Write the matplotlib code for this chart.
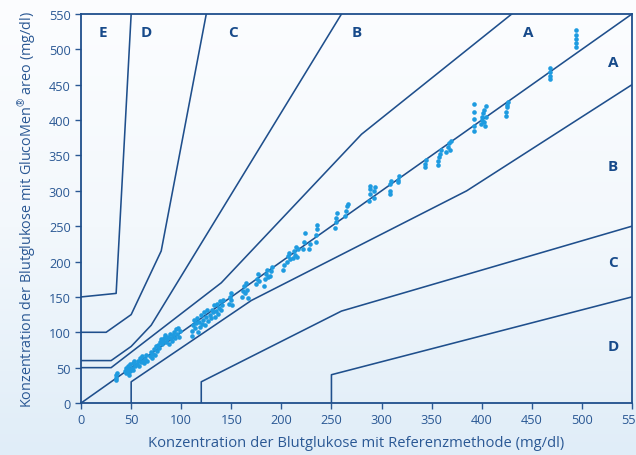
import matplotlib
matplotlib.use("Agg")
import matplotlib.pyplot as plt
import numpy as np
from matplotlib.colors import LinearSegmentedColormap

# ---------------- data ----------------
ref = [35, 35, 35, 36,
       44, 45, 45, 46, 47, 47, 48, 48, 49, 49,
       51, 52, 52, 53, 54,
       56, 57, 58, 59, 60, 61, 62, 63, 64, 65, 66,
       69, 70, 71, 72, 73, 74, 75, 76,
       77, 78, 79, 80, 81, 82, 83, 84, 85, 86, 87, 88, 89,
       90, 91, 92, 93, 94, 95, 96, 97, 98, 99,
       111, 111, 112, 113, 114, 115, 116, 117, 118, 119, 120, 121,
       122, 123, 124, 125, 126, 127,
       129, 130, 131, 132, 133, 134, 135, 136, 137, 138, 139, 140, 141, 142,
       148, 149, 150, 150, 151,
       161, 162, 163, 164, 165, 166, 167,
       175, 176, 177, 178,
       183, 184, 185, 186, 187,
       189, 190, 191,
       202, 203,
       206, 207, 208, 209,
       212, 213, 214, 215, 216, 217,
       222, 223, 224,
       228, 229,
       235, 235, 236, 236,
       254, 255, 255, 256,
       264, 265, 266, 267,
       288, 289, 289, 289, 292, 292, 293,
       308, 308, 308, 309,
       316, 316, 317,
       343, 343, 344,
       356, 356, 357, 358, 359,
       364, 366, 367, 368, 369,
       392, 392, 392, 392, 392,
       399, 400, 400, 401, 402, 402, 403, 404, 404,
       424, 424, 425, 425, 426,
       468, 468, 468, 468,
       494, 494, 494, 494, 494]
meas = [32, 36, 40, 42,
        45, 42, 50, 47, 44, 52, 40, 48, 55, 45,
        50, 56, 47, 59, 52,
        55, 60, 52, 64, 58, 66, 60, 56, 62, 68, 60,
        66, 72, 64, 70, 76, 68, 80, 74,
        82, 78, 86, 90, 84, 88, 92, 96, 86, 90, 94, 84, 98,
        92, 88, 96, 100, 92, 104, 98, 106, 94, 102,
        95, 102, 110, 118, 106, 113, 120, 100, 115, 108, 125, 112,
        118, 128, 110, 122, 132, 116,
        125, 120, 132, 128, 138, 122, 130, 140, 126, 135, 144, 132, 138, 146,
        140, 150, 156, 145, 138,
        150, 158, 165, 155, 170, 160, 148,
        168, 176, 182, 172,
        166, 175, 182, 188, 178,
        180, 186, 192,
        188, 195,
        200, 208, 212, 204,
        205, 215, 210, 220, 206, 218,
        218, 228, 240,
        218, 225,
        228, 238, 246, 252,
        248, 256, 262, 268,
        264, 272, 278, 282,
        286, 296, 302, 307, 290, 300, 305,
        295, 300, 310, 314,
        312, 316, 321,
        334, 338, 343,
        336, 342, 348, 352, 358,
        355, 362, 368, 358, 371,
        385, 392, 402, 411, 423,
        395, 400, 405, 410, 398, 415, 392, 420, 404,
        406, 412, 418, 422, 426,
        458, 463, 468, 474,
        503, 509, 515, 521, 527]

# Parkes error grid boundaries (type 1)
a_up_x = [0, 30, 140, 280, 430]
a_up_y = [50, 50, 170, 380, 550]
a_lo_x = [50, 50, 170, 385, 550]
a_lo_y = [0, 30, 145, 300, 450]
b_up_x = [0, 30, 50, 70, 260]
b_up_y = [60, 60, 80, 110, 550]
b_lo_x = [120, 120, 260, 550]
b_lo_y = [0, 30, 130, 250]
c_up_x = [0, 25, 50, 80, 125]
c_up_y = [100, 100, 125, 215, 550]
c_lo_x = [250, 250, 550]
c_lo_y = [0, 40, 150]
d_up_x = [0, 35, 50]
d_up_y = [150, 155, 550]

zone_labels = ["E", "D", "C", "B", "A", "A", "B", "C", "D"]
zone_x = [22, 65, 152, 275, 447, 531, 531, 531, 531]
zone_y = [525, 525, 525, 525, 525, 482, 335, 199, 81]

ticks = [0, 50, 100, 150, 200, 250, 300, 350, 400, 450, 500, 550]

# ---------------- style ----------------
plt.rcParams['font.family'] = ['Open Sans', 'DejaVu Sans']
plt.rcParams['mathtext.fontset'] = 'custom'
plt.rcParams['mathtext.rm'] = 'Open Sans'
plt.rcParams['mathtext.it'] = 'Open Sans'
line_c = "#1f4f8c"
text_c = "#2a5894"
pt_c = "#1e9be0"

fig = plt.figure(figsize=(6.36, 4.56), dpi=100)

# background gradient
bg = fig.add_axes([0, 0, 1, 1], zorder=-10)
cmap = LinearSegmentedColormap.from_list("bg", ["#fcfdff", "#f3f8fc", "#e0edf8"])
grad = np.linspace(0, 1, 256).reshape(-1, 1)
bg.imshow(grad, aspect="auto", cmap=cmap, extent=[0, 1, 0, 1], origin="upper")
bg.axis("off")

ax = fig.add_axes([0.1275, 0.114, 0.866, 0.853])
ax.patch.set_alpha(0)

lw = 1.15
ax.plot([0, 550], [0, 550], color=line_c, lw=lw)
for xs, ys in [(a_up_x, a_up_y), (a_lo_x, a_lo_y), (b_up_x, b_up_y), (b_lo_x, b_lo_y),
               (c_up_x, c_up_y), (c_lo_x, c_lo_y), (d_up_x, d_up_y)]:
    ax.plot(xs, ys, color=line_c, lw=lw)

ax.scatter(ref, meas, s=11, color=pt_c, zorder=3, linewidths=0)

for lab, x, y in zip(zone_labels, zone_x, zone_y):
    ax.text(x, y, lab, ha="center", va="center", fontsize=11, fontweight="bold",
            color="#174a8a")

ax.set_xlim(0, 550)
ax.set_ylim(0, 550)
ax.set_xticks(ticks)
ax.set_yticks(ticks)
ax.tick_params(colors=text_c, labelsize=9.2, length=4, width=1, direction="out")
ax.tick_params(axis="both", labelcolor=text_c)
for sp in ax.spines.values():
    sp.set_color(line_c)
    sp.set_linewidth(1.3)

ax.set_xlabel("Konzentration der Blutglukose mit Referenzmethode (mg/dl)",
              fontsize=10.6, color=text_c, labelpad=6)
ax.set_ylabel("Konzentration der Blutglukose mit GlucoMen$^{®}$ areo (mg/dl)",
              fontsize=10.4, color=text_c, labelpad=8)

fig.savefig("out.png", dpi=100)
